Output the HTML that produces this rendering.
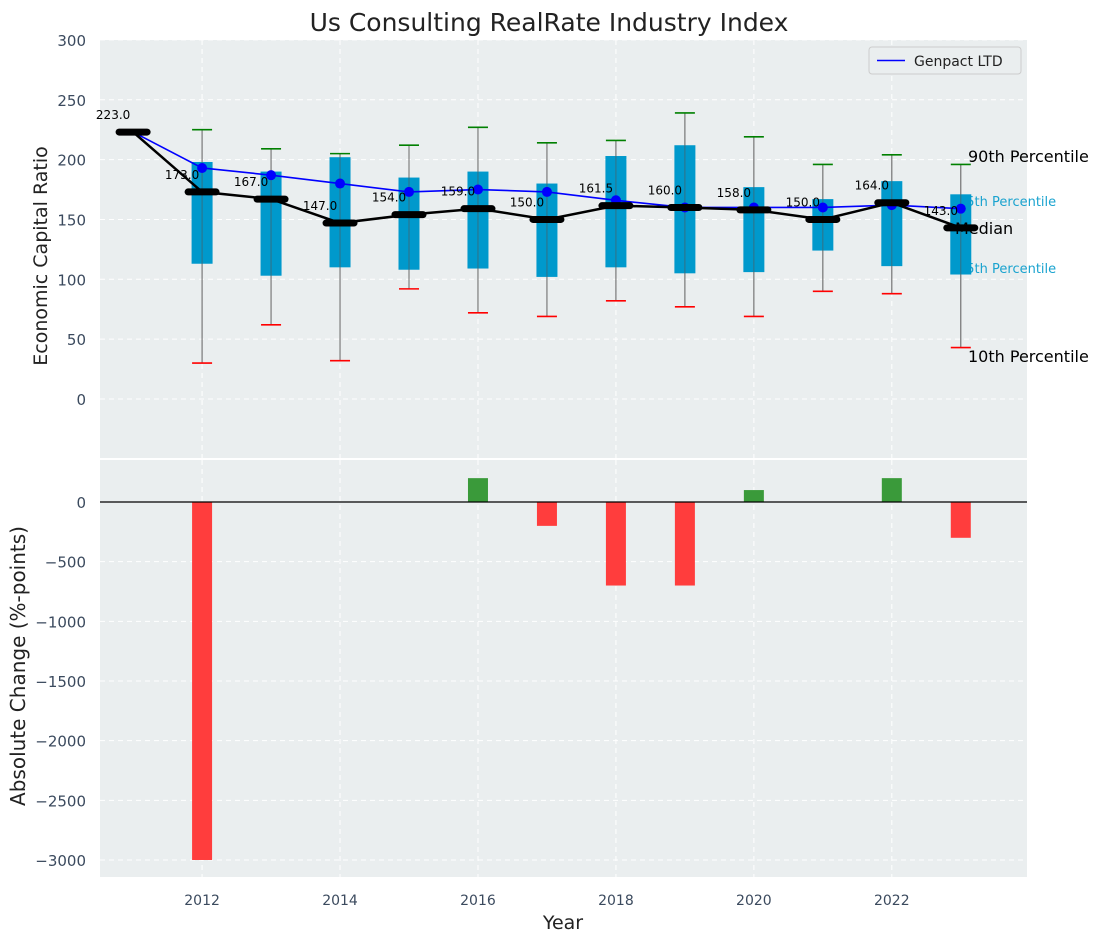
<!DOCTYPE html>
<html><head><meta charset="utf-8"><style>
body{margin:0;background:#fff;}
svg text{font-family:"DejaVu Sans","Liberation Sans",sans-serif;}
</style></head><body>
<svg id="c" width="1103" height="942" xmlns="http://www.w3.org/2000/svg"></svg>
<script>
const years=[2011,2012,2013,2014,2015,2016,2017,2018,2019,2020,2021,2022,2023];
const medians=[223,173,167,147,154,159,150,161.5,160,158,150,164,143];
const means=[223,193,187,180,173,175,173,166,160,160,160,162,159];
const q25=[null,113,103,110,108,109,102,110,105,106,124,111,104];
const q75=[null,198,190,202,185,190,180,203,212,177,167,182,171];
const p10=[null,30,62,32,92,72,69,82,77,69,90,88,43];
const p90=[null,225,209,205,212,227,214,216,239,219,196,204,196];
const changes=[0,-3000,0,0,0,200,-200,-700,-700,100,0,200,-300];
const yTicksTop=[0,50,100,150,200,250,300];
const yTicksBot=[-3000,-2500,-2000,-1500,-1000,-500,0];
const xTicks=[2012,2014,2016,2018,2020,2022];

const NS="http://www.w3.org/2000/svg";
const svg=document.getElementById('c');
function el(t,a,txt){const e=document.createElementNS(NS,t);for(const k in a)e.setAttribute(k,a[k]);if(txt!==undefined)e.textContent=txt;svg.appendChild(e);return e;}
const X0=100,X1=1027;
const sx=v=>X0+(v-2010.52)/(2023.96-2010.52)*(X1-X0);
const T0=40,T1=458,B0=460,B1=877;
const syT=v=>399-v*1.197;
const syB=v=>502-v*0.11933;

let e;
e=el('rect',{x:X0,y:T0,width:X1-X0,height:T1-T0,fill:'#eaeeef'});

e=el('rect',{x:X0,y:B0,width:X1-X0,height:B1-B0,fill:'#eaeeef'});


for(const t of yTicksTop){const y=syT(t);
 e=el('line',{x1:X0,x2:X1,y1:y,y2:y,stroke:'#fff','stroke-dasharray':'5,4','stroke-width':1});
 
 e=el('text',{x:86,y:y+6,'text-anchor':'end','font-size':15,fill:'#3b4a5e'},t);
 }
for(const t of yTicksBot){const y=syB(t);
 e=el('line',{x1:X0,x2:X1,y1:y,y2:y,stroke:'#fff','stroke-dasharray':'5,4','stroke-width':1});
 
 e=el('text',{x:86,y:y+6,'text-anchor':'end','font-size':15,fill:'#3b4a5e'},t<0?'\u2212'+(-t):t);
 }
for(const t of xTicks){const x=sx(t);
 e=el('line',{x1:x,x2:x,y1:T0,y2:T1,stroke:'#fff','stroke-dasharray':'5,4'});
 
 e=el('line',{x1:x,x2:x,y1:B0,y2:B1,stroke:'#fff','stroke-dasharray':'5,4'});
 
 e=el('text',{x:x,y:905,'text-anchor':'middle','font-size':14,fill:'#3b4a5e'},t);
 }

e=el('text',{x:958,y:206,'font-size':13,fill:'#1aa3cf'},'75th Percentile');

e=el('text',{x:958,y:273,'font-size':13,fill:'#1aa3cf'},'25th Percentile');


years.forEach((yr,i)=>{if(q25[i]===null)return;const x=sx(yr);
 e=el('line',{x1:x,x2:x,y1:syT(p10[i]),y2:syT(p90[i]),stroke:'#888','stroke-width':1});
 
 e=el('rect',{x:x-10.5,y:syT(q75[i]),width:21,height:syT(q25[i])-syT(q75[i]),fill:'#0099cc'});
 
 e=el('line',{x1:x,x2:x,y1:syT(p10[i]),y2:syT(p90[i]),stroke:'#555','stroke-width':1,opacity:0.6});
 
 e=el('line',{x1:x-10,x2:x+10,y1:syT(p90[i]),y2:syT(p90[i]),stroke:'green','stroke-width':1.6});
 
 e=el('line',{x1:x-10,x2:x+10,y1:syT(p10[i]),y2:syT(p10[i]),stroke:'red','stroke-width':1.6});
 });

e=el('polyline',{points:years.map((yr,i)=>sx(yr)+','+syT(means[i])).join(' '),fill:'none',stroke:'blue','stroke-width':1.6});

years.forEach((yr,i)=>{e=el('circle',{cx:sx(yr),cy:syT(means[i]),r:i===0?3:5,fill:'blue'});
 });

e=el('polyline',{points:years.map((yr,i)=>sx(yr)+','+syT(medians[i])).join(' '),fill:'none',stroke:'#000','stroke-width':2.5});

years.forEach((yr,i)=>{const x=sx(yr),y=syT(medians[i]);
 e=el('line',{x1:x-14,x2:x+14,y1:y,y2:y,stroke:'#000','stroke-width':7,'stroke-linecap':'round'});
 
 e=el('text',{x:x-20,y:y-13,'text-anchor':'middle','font-size':12,fill:'#000'},medians[i].toFixed(1));
 });

e=el('text',{x:968,y:162,'font-size':16,fill:'#000'},'90th Percentile');

e=el('text',{x:955,y:234,'font-size':16,fill:'#000'},'Median');

e=el('text',{x:968,y:362,'font-size':16,fill:'#000'},'10th Percentile');


years.forEach((yr,i)=>{const v=changes[i];if(!v)return;const x=sx(yr);
 const y0=syB(Math.max(0,v)),y1=syB(Math.min(0,v));
 e=el('rect',{x:x-10,y:y0,width:20,height:y1-y0,fill:v<0?'#ff3d3d':'#3a9a3a'});
 });
e=el('line',{x1:X0,x2:X1,y1:syB(0),y2:syB(0),stroke:'#000','stroke-width':1.2});


e=el('rect',{x:869,y:47,width:152,height:27,rx:3,fill:'#eaeeef',stroke:'#ccc'});

e=el('line',{x1:877,x2:905,y1:60.5,y2:60.5,stroke:'blue','stroke-width':1.6});

e=el('text',{x:914,y:66,'font-size':14,fill:'#222'},'Genpact LTD');


e=el('text',{x:549,y:31,'text-anchor':'middle','font-size':25,fill:'#222'},'Us Consulting RealRate Industry Index');

e=el('text',{x:0,y:0,'text-anchor':'middle','font-size':19,fill:'#222',transform:'translate(47,256) rotate(-90)'},'Economic Capital Ratio');

e=el('text',{x:0,y:0,'text-anchor':'middle','font-size':20,fill:'#222',transform:'translate(25,666) rotate(-90)'},'Absolute Change (%-points)');

e=el('text',{x:563,y:929,'text-anchor':'middle','font-size':19,fill:'#222'},'Year');

</script>
</body></html>
